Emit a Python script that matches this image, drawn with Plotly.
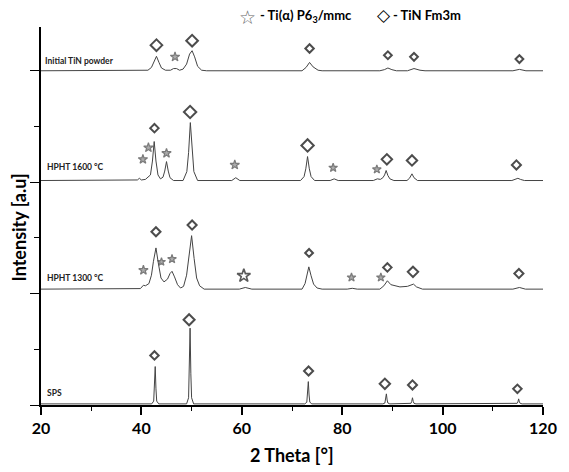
import plotly.graph_objects as go

# ---------------- data (2 Theta in degrees, intensity in a.u. above each baseline) ----------------
sps_x = [20, 42.05, 42.45, 42.6, 42.75, 42.9, 43.05, 43.45, 49.0, 49.4, 49.55, 49.7, 49.85, 50.0, 50.4,
         72.55, 72.95, 73.1, 73.25, 73.4, 73.55, 73.95, 88.1, 88.5, 88.65, 88.8, 88.95, 89.1, 89.5,
         93.3, 93.7, 93.85, 94.0, 94.15, 94.3, 94.7, 114.45, 114.85, 115.0, 115.15, 115.3, 115.45, 115.85, 120]
sps_y = [0, 0, 0.05, 0.27, 0.67, 0.27, 0.05, 0, 0, 0.11, 0.54, 1.36, 0.54, 0.11, 0,
         0, 0.03, 0.16, 0.40, 0.16, 0.03, 0, 0, 0.015, 0.07, 0.18, 0.07, 0.015, 0,
         0, 0.01, 0.045, 0.11, 0.045, 0.01, 0, 0, 0.01, 0.035, 0.09, 0.035, 0.01, 0, 0]

h1300_x = [20, 38.5, 39.8, 40.4, 40.8, 41.5, 42.0, 42.4, 42.9, 43.4, 43.9, 44.5, 45.2, 45.7, 46.1, 46.6,
           47.2, 47.8, 48.4, 49.0, 49.5, 50.0, 50.5, 51.0, 51.6, 52.5, 59.5, 60.7, 62.0,
           72.0, 72.6, 73.0, 73.35, 73.8, 74.3, 75.0, 76.0, 81.0, 82.0, 83.0,
           87.5, 88.3, 89.0, 89.7, 90.5, 91.5, 93.0, 93.7, 94.2, 94.8, 96.0, 114.0, 115.3, 116.5, 120]
h1300_y = [0, 0, 0.01, 0.07, 0.06, 0.10, 0.25, 0.50, 0.74, 0.45, 0.20, 0.13, 0.18, 0.28, 0.32, 0.22,
           0.08, 0.02, 0.05, 0.25, 0.60, 0.96, 0.55, 0.20, 0.06, 0, 0, 0.03, 0,
           0, 0.10, 0.26, 0.40, 0.24, 0.09, 0.02, 0, 0, 0.015, 0,
           0, 0.06, 0.15, 0.08, 0.06, 0.04, 0.05, 0.07, 0.09, 0.04, 0, 0, 0.03, 0, 0]

h1600_x = [20, 38.5, 39.2, 39.6, 40.0, 40.8, 41.4, 41.8, 42.2, 42.55, 42.9, 43.3, 43.8, 44.3, 44.65, 45.0,
           45.35, 45.7, 46.4, 48.3, 49.05, 49.4, 49.75, 50.1, 50.45, 51.2, 58.0, 58.8, 59.6,
           71.7, 72.4, 72.75, 73.1, 73.45, 73.8, 74.5, 77.6, 78.4, 79.2,
           86.2, 87.0, 87.6, 88.1, 88.45, 88.75, 89.1, 89.5, 90.3, 92.9, 93.4, 93.9, 94.3, 95.0,
           113.8, 114.5, 115.0, 115.5, 116.3, 120]
h1600_y = [0, 0, 0.01, 0.04, 0.01, 0.02, 0.07, 0.10, 0.35, 0.70, 0.35, 0.10, 0.03, 0.06, 0.17, 0.34,
           0.17, 0.05, 0, 0, 0.16, 0.50, 1.04, 0.50, 0.16, 0, 0, 0.05, 0,
           0, 0.07, 0.21, 0.43, 0.21, 0.07, 0, 0, 0.03, 0,
           0, 0.03, 0.02, 0.05, 0.10, 0.18, 0.09, 0.03, 0, 0, 0.04, 0.12, 0.05, 0,
           0, 0.02, 0.04, 0.02, 0, 0]

init_x = [20, 39.0, 41.3, 42.0, 42.5, 43.0, 43.5, 44.0, 44.8, 45.8, 46.4, 47.0, 47.6, 48.3, 49.0, 49.6,
          50.1, 50.6, 51.2, 52.0, 53.0, 72.0, 72.8, 73.5, 74.2, 75.2, 76.0, 87.5, 88.4, 89.1, 89.9, 90.8,
          93.0, 94.3, 95.5, 96.5, 114.0, 115.3, 116.6, 120]
init_y = [0, 0, 0.01, 0.06, 0.16, 0.26, 0.15, 0.05, 0.01, 0.01, 0.04, 0.04, 0.01, 0.03, 0.12, 0.30,
          0.36, 0.25, 0.08, 0.01, 0, 0, 0.06, 0.15, 0.07, 0.01, 0, 0, 0.02, 0.05, 0.02, 0,
          0, 0.04, 0.01, 0, 0, 0.025, 0, 0]

offsets = [0.02, 2.08, 4.03, 6.0]          # SPS, HPHT 1300, HPHT 1600, Initial
labels = ["SPS", "HPHT 1300 °C", "HPHT 1600 °C", "Initial TiN powder"]

# TiN (Fm3m) reflection markers
tin_x = [43.0, 50.1, 73.5, 89.1, 94.3, 115.3,
         42.6, 49.7, 73.1, 88.9, 93.9, 114.7,
         42.9, 50.1, 73.4, 89.0, 94.1, 115.2,
         42.6, 49.5, 73.3, 88.5, 94.0, 114.9]
tin_y = [6.46, 6.54, 6.40, 6.28, 6.25, 6.21,
         4.97, 5.26, 4.66, 4.41, 4.39, 4.31,
         3.11, 3.23, 2.73, 2.47, 2.39, 2.36,
         0.89, 1.53, 0.61, 0.38, 0.36, 0.29]
tin_size = [9, 9, 6.5, 6, 6, 6,
            6.5, 9.5, 9.5, 8, 8, 7,
            7, 7, 6, 6.5, 8, 7,
            6.5, 8.5, 7, 8, 7, 6.5]

# Ti(alpha) (P63/mmc) reflection markers
ti_x = [46.7, 40.3, 41.4, 45.0, 58.6, 78.2, 86.9, 40.4, 44.0, 46.1, 81.85, 87.7]
ti_y = [6.25, 4.41, 4.62, 4.52, 4.31, 4.26, 4.23, 2.42, 2.57, 2.62, 2.29, 2.29]
ti_size = [7, 7, 7, 7, 7, 6.5, 6.5, 7, 6, 6.5, 6.5, 6.5]
ti_big_x = [60.4]
ti_big_y = [2.32]

x_ticks = [20, 40, 60, 80, 100, 120]

# ---------------- figure ----------------
FONT = "Lato, 'Open Sans', sans-serif"
fig = go.Figure()
for xs, ys, off in zip([sps_x, h1300_x, h1600_x, init_x], [sps_y, h1300_y, h1600_y, init_y], offsets):
    fig.add_trace(go.Scatter(x=xs, y=[v + off for v in ys], mode="lines",
                             line=dict(color="#444444", width=1), hoverinfo="skip", showlegend=False))

fig.add_trace(go.Scatter(x=tin_x, y=tin_y, mode="markers", showlegend=False, cliponaxis=False,
                         marker=dict(symbol="diamond-open", size=tin_size, color="black",
                                     line=dict(color="black", width=2))))
fig.add_trace(go.Scatter(x=ti_x, y=ti_y, mode="markers", showlegend=False, cliponaxis=False,
                         marker=dict(symbol="star", size=ti_size, color="#8a8a8a",
                                     line=dict(color="#444444", width=1.2))))
fig.add_trace(go.Scatter(x=ti_big_x, y=ti_big_y, mode="markers", showlegend=False, cliponaxis=False,
                         marker=dict(symbol="star-open", size=10, color="#5a5a5a",
                                     line=dict(color="#5a5a5a", width=1.6))))

W, H = 569, 472
L, R, T, B = 41, 15, 27, 67

fig.update_layout(
    width=W, height=H, margin=dict(l=L, r=R, t=T, b=B),
    paper_bgcolor="white", plot_bgcolor="white",
    font=dict(family=FONT, color="black"),
    xaxis=dict(range=[20, 120], tickvals=x_ticks, ticks="outside", ticklen=8, tickwidth=1.5,
               tickcolor="black", showline=True, linecolor="black", linewidth=1.5,
               showgrid=False, zeroline=False,
               tickfont=dict(size=16, family=FONT, weight="bold"),
               minor=dict(dtick=10, tick0=30, ticks="outside", ticklen=4, tickwidth=1.2, tickcolor="black")),
    yaxis=dict(range=[0, 6.786], tickvals=[0, 2, 4, 6], showticklabels=False, ticks="outside",
               ticklen=9, tickwidth=1.2, tickcolor="black", showline=True, linecolor="black",
               linewidth=1.5, showgrid=False, zeroline=False,
               minor=dict(tickvals=[1, 3, 5], ticks="outside", ticklen=5, tickwidth=1.2, tickcolor="black")),
)

pw, ph = W - L - R, H - T - B
def px(xp):
    return (xp - L) / pw
def py(yp):
    return (H - B - yp) / ph

ann = []
# axis titles
ann.append(dict(text="<b>2 Theta [°]</b>", x=px(297.5), y=py(455), xref="paper", yref="paper",
                showarrow=False, font=dict(size=18, family=FONT), xanchor="center", yanchor="middle"))
ann.append(dict(text="<b>Intensity [a.u]</b>", x=px(18.5), y=py(227.5), xref="paper", yref="paper",
                showarrow=False, textangle=-90, font=dict(size=18, family=FONT),
                xanchor="center", yanchor="middle"))
# pattern labels
for lab, xp, yp in zip(labels, [45, 45.5, 45.5, 43], [392.7, 278, 166.7, 61]):
    ann.append(dict(text="<b>" + lab + "</b>", x=px(xp), y=py(yp), xref="paper", yref="paper",
                    showarrow=False, font=dict(size=8.5, family=FONT, color="#222"),
                    xanchor="left", yanchor="middle"))
# legend
ann.append(dict(text="☆", x=px(252), y=py(16.5), xref="paper", yref="paper", showarrow=False,
                font=dict(size=19, family="DejaVu Sans", color="#666"), xanchor="center", yanchor="middle"))
ann.append(dict(text="<b>- Ti(α) P6<sub>3</sub>/mmc</b>", x=px(263), y=py(16), xref="paper", yref="paper",
                showarrow=False, font=dict(size=13, family=FONT), xanchor="left", yanchor="middle"))
ann.append(dict(text="◇", x=px(391.5), y=py(15), xref="paper", yref="paper", showarrow=False,
                font=dict(size=17, family="DejaVu Sans", color="black"), xanchor="center", yanchor="middle"))
ann.append(dict(text="<b>- TiN Fm3m</b>", x=px(399), y=py(15), xref="paper", yref="paper",
                showarrow=False, font=dict(size=13, family=FONT), xanchor="left", yanchor="middle"))
fig.update_layout(annotations=ann)

fig.write_html("out.html")
